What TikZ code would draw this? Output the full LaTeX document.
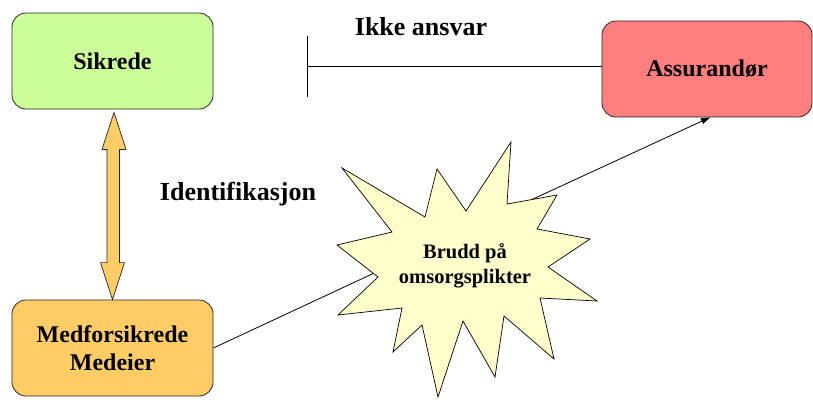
\documentclass[tikz,border=0pt]{standalone}
\usepackage{fontspec}
\setmainfont{Liberation Serif}
\usetikzlibrary{calc,arrows.meta}
\definecolor{sikgreen}{HTML}{CCFF99}
\definecolor{assred}{HTML}{FF7F7F}
\definecolor{medorange}{HTML}{FFCC66}
\definecolor{starfill}{HTML}{FFFFCC}
\begin{document}
\begin{tikzpicture}[x=1pt,y=-1pt,
  box/.style={draw=black!85, line width=0.8pt, rounded corners=14pt,
    minimum width=201pt, minimum height=96pt, inner sep=0pt, align=center,
    font=\fontsize{24}{28}\selectfont\bfseries},
  lbl/.style={font=\fontsize{26}{30}\selectfont\bfseries, inner sep=0pt},
  conn/.style={line width=0.8pt, draw=black},
  dblarrow/.style={draw=black!85, line width=0.7pt, fill=medorange, line join=miter},
  starshape/.style={draw=black, line width=0.7pt, fill=starfill, line join=miter}]
\useasboundingbox (0,0) rectangle (813,399);

% boxes
\node[box, fill=sikgreen] (sik) at (112.5,61) {Sikrede};
\node[box, fill=medorange] (med) at (112.5,348) {Medforsikrede\\Medeier};
\node[box, fill=assred, minimum width=210pt] (ass) at (707,69) {Assurandør};

% labels
\node[lbl] (ikke) at (421,27) {Ikke ansvar};
\node[lbl] (ident) at (238,194) {Identifikasjon};

% double arrow (Identifikasjon)
\coordinate (dt) at ($(sik.south)+(1.5,3)$);
\coordinate (db) at (med.north);
\draw[dblarrow] (dt) -- ++(12,37) -- ++(-6.5,0) |- ($(db)+(6.5,-37)$) -- ++(5.5,0) -- (db)
  -- ++(-12,-37) -- ++(6.5,0) |- ($(dt)+(-6.5,37)$) -- ++(-5.5,0) -- cycle;

% "Ikke ansvar" T-line
\coordinate (tb) at (307,66);
\draw[conn] (307,36) -- (307,97);
\draw[conn] (tb) -- (tb -| ass.west);

% line from Medforsikrede into the star (behind it)
\coordinate (s2) at (400,261);
\draw[conn] (med.east) -- (s2);

% starburst
\draw[starshape] (511,142) -- (507,204) -- (557,195) -- (537,229) -- (590,239)
  -- (548,267) -- (597,301) -- (540,298) -- (554,359) -- (504,316) -- (495,377)
  -- (463,321) -- (438,397) -- (422,325) -- (393,352) -- (402,308) -- (338,315)
  -- (378,277) -- (337,245) -- (392,232) -- (342,168) -- (425,217) -- (437,169)
  -- (466,211) -- cycle;
\node[font=\fontsize{20.5}{25}\selectfont\bfseries, align=center, inner sep=0pt] (brudd) at (465,266) {Brudd på\\omsorgsplikter};

% arrow from the star to Assurandør
\coordinate (s1) at (533,199);
\draw[conn, -{Triangle[length=9pt,width=6pt]}] (s1) -- ($(ass.south)+(3,0)$);
\end{tikzpicture}
\end{document}
